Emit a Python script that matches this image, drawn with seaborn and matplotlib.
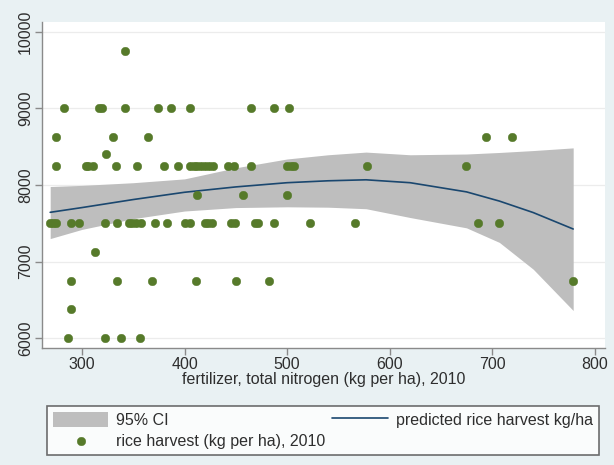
import pandas as pd
import matplotlib
matplotlib.use("Agg")
import matplotlib.pyplot as plt
import seaborn as sns

# rice harvest levels (kg per ha) and the fertilizer values of the farms at each level
harvest_levels = [9750, 9000, 8625, 8400, 8250, 7875, 7500, 7125, 6750, 6375, 6000]
fert_at_level = [
    [342],
    [282, 317, 320, 342, 374, 387, 405, 465, 487, 502],
    [275, 330, 364, 694, 719],
    [323],
    [275, 304, 306, 311, 333, 354, 380, 394, 405, 409, 412, 416, 420, 424, 428,
     442, 448, 465, 500, 504, 507, 578, 674],
    [412, 457, 500],
    [269, 272, 275, 289, 297, 322, 334, 346, 349, 353, 358, 371, 383, 400, 405,
     420, 423, 427, 445, 449, 469, 472, 487, 522, 566, 686, 707],
    [313],
    [289, 334, 368, 411, 450, 482, 779],
    [289],
    [286, 322, 338, 357],
]

# predicted harvest and 95% CI
fit_x = [269, 300, 350, 400, 450, 500, 540, 577, 620, 675, 707, 740, 779]
fit_y = [7643, 7705, 7810, 7905, 7975, 8030, 8055, 8068, 8030, 7910, 7790, 7640, 7425]
ci_lo = [7300, 7420, 7560, 7660, 7705, 7715, 7710, 7690, 7575, 7440, 7250, 6900, 6360]
ci_hi = [7980, 7995, 8030, 8080, 8225, 8340, 8395, 8430, 8395, 8405, 8425, 8450, 8485]

x_ticks = [300, 400, 500, 600, 700, 800]
y_ticks = [6000, 7000, 8000, 9000, 10000]

rows = []
for lev, xs in zip(harvest_levels, fert_at_level):
    for x in xs:
        rows.append({"fert": x, "harvest": lev})
df = pd.DataFrame(rows)
fit = pd.DataFrame({"fert": fit_x, "pred": fit_y, "lo": ci_lo, "hi": ci_hi})

sns.set_theme(style="white")
plt.rcParams['font.family'] = ['Liberation Sans', 'DejaVu Sans']

bg = "#e9f1f3"
green = "#567a2a"
navy = "#1a476f"
band = "#bebebe"
axis_col = "#8a8a8a"

fig = plt.figure(figsize=(6.14, 4.65), dpi=100, facecolor=bg)
ax = fig.add_axes([0.0684, 0.2516, 0.9169, 0.7011])
ax.set_facecolor("white")

ax.fill_between(fit["fert"], fit["lo"], fit["hi"], color=band, lw=0,
                label="95% CI", zorder=2)
sns.scatterplot(data=df, x="fert", y="harvest", ax=ax, color=green, s=38,
                edgecolor=green, linewidth=0.3, label="rice harvest (kg per ha), 2010",
                zorder=4)
sns.lineplot(data=fit, x="fert", y="pred", ax=ax, color=navy, lw=1.2,
             label="predicted rice harvest kg/ha", zorder=3)

ax.set_xlim(261, 810)
ax.set_ylim(5870, 10130)
ax.set_xticks(x_ticks)
ax.set_yticks(y_ticks)
ax.yaxis.grid(True, color="#ececec", lw=0.9)
ax.set_axisbelow(True)
for s in ["top", "right"]:
    ax.spines[s].set_visible(False)
for s in ["left", "bottom"]:
    ax.spines[s].set_color(axis_col)
    ax.spines[s].set_linewidth(1.0)
ax.tick_params(axis="both", colors=axis_col, length=5, width=1.0, direction="out",
               labelcolor="#2e2e2e", labelsize=11.5, pad=1.5, left=True, bottom=True)
plt.setp(ax.get_yticklabels(), rotation=90, va="center")
ax.set_xlabel("fertilizer, total nitrogen (kg per ha), 2010", fontsize=11.5,
              color="#2e2e2e", labelpad=0)
ax.set_ylabel("")

handles, labels = ax.get_legend_handles_labels()
order = [labels.index("95% CI"), labels.index("rice harvest (kg per ha), 2010"),
         labels.index("predicted rice harvest kg/ha")]
ax.get_legend().remove()
leg = fig.legend([handles[i] for i in order], [labels[i] for i in order],
                 loc="lower left", bbox_to_anchor=(0.0765, 0.0215, 0.899, 0.114),
                 mode="expand", ncol=2, fontsize=11.5, frameon=True, fancybox=False,
                 handlelength=3.5, handleheight=1.1, handletextpad=0.5,
                 labelspacing=0.35, borderpad=0.35, borderaxespad=0,
                 columnspacing=0.8, labelcolor="#2e2e2e")
leg.get_frame().set_edgecolor("#4a4a4a")
leg.get_frame().set_linewidth(1.2)
leg.get_frame().set_facecolor("white")

fig.savefig("out.png", dpi=100, facecolor=bg)
